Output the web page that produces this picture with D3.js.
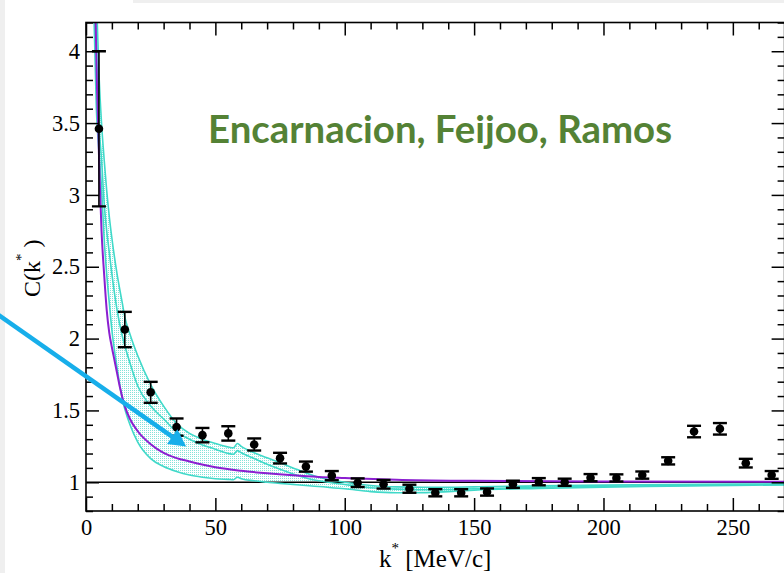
<!DOCTYPE html>
<html><head><meta charset="utf-8">
<script src="https://cdn.jsdelivr.net/npm/d3@7"></script>
<style>html,body{margin:0;padding:0;background:#fff;}svg{display:block;}</style>
</head><body>
<svg id="chart" width="784" height="573"></svg>
<script>
// ---- data ----
const dataK   = [5,15,25,35,45,55,65,75,85,95,105,115,125,135,145,155,165,175,185,195,205,215,225,235,245,255,265];
const dataC   = [3.46,2.063,1.626,1.384,1.328,1.34,1.263,1.168,1.109,1.046,0.997,0.986,0.955,0.927,0.927,0.932,0.986,1.004,1.0,1.032,1.03,1.05,1.149,1.353,1.372,1.133,1.051];
const dataErr = [0.54,0.123,0.073,0.06,0.05,0.05,0.042,0.037,0.035,0.032,0.03,0.03,0.028,0.025,0.025,0.025,0.025,0.025,0.025,0.025,0.025,0.025,0.025,0.04,0.04,0.03,0.027];

const purpleK = [3.5,4.25,4.8,5.2,6,7,8,9,10,11,12,13,15,17,20,25,30,35,40,50,60,70,80,90,100,120,150,200,270];
const purpleC = [4.4,3.75,3.42,3.15,2.75,2.45,2.2,2.04,1.94,1.85,1.76,1.67,1.53,1.44,1.355,1.265,1.205,1.168,1.145,1.105,1.08,1.062,1.048,1.037,1.03,1.018,1.01,1.005,1.003];

const bandK      = [3,4,5,6,7,8,9,10,12,14,15,17,20,25,30,35,40,45,50,55,57,58.5,60,65,70,75,80,85,90,100,110,120,130,140,150,175,200,225,250,270];
const bandUpper  = [5.0,4.4,3.85,3.5,3.25,3.03,2.85,2.7,2.45,2.25,2.15,2.03,1.88,1.68,1.53,1.41,1.34,1.30,1.27,1.245,1.24,1.27,1.25,1.205,1.17,1.135,1.10,1.065,1.035,1.0,0.978,0.968,0.965,0.965,0.968,0.975,0.98,0.984,0.987,0.989];
const bandMiddle = [4.6,4.05,3.5,3.25,2.95,2.75,2.6,2.45,2.2,2.02,1.95,1.83,1.67,1.53,1.44,1.35,1.30,1.26,1.23,1.20,1.195,1.22,1.205,1.165,1.125,1.09,1.058,1.03,1.01,0.985,0.962,0.952,0.948,0.95,0.955,0.965,0.972,0.978,0.982,0.985];
const bandLower  = [4.3,3.6,3.3,3.05,2.7,2.45,2.25,2.06,1.8,1.58,1.51,1.4,1.28,1.165,1.11,1.075,1.05,1.035,1.025,1.02,1.018,1.035,1.025,1.01,1.0,0.992,0.985,0.978,0.97,0.955,0.935,0.927,0.928,0.935,0.945,0.957,0.966,0.972,0.978,0.982];

const xMajor = [0,50,100,150,200,250];
const yMajor = [1,1.5,2,2.5,3,3.5,4];
const xLabels = ["0","50","100","150","200","250"];
const yLabels = ["1","1.5","2","2.5","3","3.5","4"];
const titleText = "Encarnacion, Feijoo, Ramos";
const arrowFrom = [-35, 2.18];
const arrowTo = [38.7, 1.249];

// ---- layout ----
const svg = d3.select("#chart");
const L = 86, R = 784.6, T = 22.5, B = 511;
const x = d3.scaleLinear().domain([0, 270]).range([L, R]);
const y = d3.scaleLinear().domain([0.8, 4.2]).range([B, T]);

// slide background strips
svg.append("rect").attr("x",0).attr("y",0).attr("width",5).attr("height",573).attr("fill","#efefef");
svg.append("rect").attr("x",133).attr("y",0).attr("width",651).attr("height",3).attr("fill","#efefef");

const defs = svg.append("defs");
defs.append("clipPath").attr("id","clip").append("rect")
  .attr("x",L).attr("y",T).attr("width",R-L).attr("height",B-T);
const pat = defs.append("pattern").attr("id","dots").attr("patternUnits","userSpaceOnUse")
  .attr("width",2).attr("height",2);
pat.append("rect").attr("width",1).attr("height",1).attr("fill","#5cd9cc");

const plot = svg.append("g").attr("clip-path","url(#clip)");

// band fill
const bandData = bandK.map((k,i)=>({k, u:bandUpper[i], l:bandLower[i]}));
plot.append("path").datum(bandData)
  .attr("d", d3.area().x(d=>x(d.k)).y0(d=>y(d.l)).y1(d=>y(d.u)).curve(d3.curveMonotoneX))
  .attr("fill","url(#dots)").attr("opacity",0.75);

// reference line at 1
plot.append("line").attr("x1",x(0)).attr("x2",x(270)).attr("y1",y(1)).attr("y2",y(1))
  .attr("stroke","#000").attr("stroke-width",1.6);

const line = d3.line().x(d=>x(d[0])).y(d=>y(d[1])).curve(d3.curveMonotoneX);
[bandUpper, bandMiddle, bandLower].forEach(arr=>{
  plot.append("path").datum(bandK.map((k,i)=>[k,arr[i]]))
    .attr("d",line).attr("fill","none").attr("stroke","#40d9c9").attr("stroke-width",1.6);
});
plot.append("path").datum(purpleK.map((k,i)=>[k,purpleC[i]]))
  .attr("d",line).attr("fill","none").attr("stroke","#8b1fd0").attr("stroke-width",2);

// data points with error bars
const pts = dataK.map((k,i)=>({k, c:dataC[i], e:dataErr[i]}));
const eg = plot.append("g");
pts.forEach(p=>{
  const cx = x(p.k);
  eg.append("line").attr("x1",cx).attr("x2",cx).attr("y1",y(p.c+p.e)).attr("y2",y(p.c-p.e))
    .attr("stroke","#000").attr("stroke-width",1.6);
  [p.c+p.e, p.c-p.e].forEach(v=>{
    eg.append("line").attr("x1",cx-7).attr("x2",cx+7).attr("y1",y(v)).attr("y2",y(v))
      .attr("stroke","#000").attr("stroke-width",2.4);
  });
  eg.append("circle").attr("cx",cx).attr("cy",y(p.c)).attr("r",4.3).attr("fill","#000");
});

// axes (ticks inward on all sides)
function styleAxis(g){
  g.select(".domain").remove();
  g.selectAll("line").attr("stroke","#000").attr("stroke-width",1.5);
  g.selectAll("text").attr("font-family","'Liberation Serif','Times New Roman',serif")
    .attr("font-size",22.5).attr("fill","#000");
}
const xMinor = d3.range(0, 271, 10).filter(v=>v%50!==0);
const yMinor = d3.range(8, 43, 1).map(v=>v/10).filter(v=>Math.round(v*10)%5!==0);

svg.append("g").attr("transform",`translate(0,${B})`)
  .call(d3.axisBottom(x).tickValues(xMajor).tickSize(-13).tickPadding(8).tickFormat((d,i)=>xLabels[i]))
  .call(styleAxis);
svg.append("g").attr("transform",`translate(0,${B})`)
  .call(d3.axisBottom(x).tickValues(xMinor).tickSize(-7).tickFormat(""))
  .call(styleAxis);
svg.append("g").attr("transform",`translate(0,${T})`)
  .call(d3.axisTop(x).tickValues(xMajor).tickSize(-13).tickFormat(""))
  .call(styleAxis);
svg.append("g").attr("transform",`translate(0,${T})`)
  .call(d3.axisTop(x).tickValues(xMinor).tickSize(-7).tickFormat(""))
  .call(styleAxis);
svg.append("g").attr("transform",`translate(${L},0)`)
  .call(d3.axisLeft(y).tickValues(yMajor).tickSize(-13).tickPadding(6).tickFormat((d,i)=>yLabels[i]))
  .call(styleAxis);
svg.append("g").attr("transform",`translate(${L},0)`)
  .call(d3.axisLeft(y).tickValues(yMinor).tickSize(-7).tickFormat(""))
  .call(styleAxis);
svg.append("g").attr("transform",`translate(${R},0)`)
  .call(d3.axisRight(y).tickValues(yMajor).tickSize(-13).tickFormat(""))
  .call(styleAxis);
svg.append("g").attr("transform",`translate(${R},0)`)
  .call(d3.axisRight(y).tickValues(yMinor).tickSize(-7).tickFormat(""))
  .call(styleAxis);

// frame
svg.append("rect").attr("x",L).attr("y",T).attr("width",R-L).attr("height",B-T)
  .attr("fill","none").attr("stroke","#000").attr("stroke-width",1.6);

// axis titles
const serif = "'Liberation Serif','Times New Roman',serif";
const xt = svg.append("text").attr("x",379).attr("y",567).attr("font-family",serif).attr("font-size",25).attr("fill","#000");
xt.append("tspan").text("k");
xt.append("tspan").attr("dy",-14).attr("font-size",15).text("*");
xt.append("tspan").attr("dy",14).text(" [MeV/c]");

const yt = svg.append("text").attr("transform","translate(40,297) rotate(-90)")
  .attr("font-family",serif).attr("font-size",24).attr("fill","#000");
yt.append("tspan").text("C(k");
yt.append("tspan").attr("dy",-14).attr("font-size",15).text("*");
yt.append("tspan").attr("dy",14).text(" )");

// title annotation
svg.append("text").attr("x",208).attr("y",143).attr("font-family","Lato,'Open Sans',sans-serif")
  .attr("font-weight","bold").attr("font-size",38).attr("fill","#548235")
  .attr("textLength",464).attr("lengthAdjust","spacingAndGlyphs").text(titleText);

// arrow annotation
const ax0 = x(arrowFrom[0]), ay0 = y(arrowFrom[1]), ax1 = x(arrowTo[0]), ay1 = y(arrowTo[1]);
const dx = ax1-ax0, dy = ay1-ay0, len = Math.hypot(dx,dy), ux = dx/len, uy = dy/len;
const headL = 17, headW = 9;
const bx = ax1-ux*headL, by = ay1-uy*headL;
svg.append("line").attr("x1",ax0).attr("y1",ay0).attr("x2",bx+ux*2).attr("y2",by+uy*2)
  .attr("stroke","#17aeea").attr("stroke-width",4.5);
svg.append("path").attr("d",`M${ax1},${ay1}L${bx-uy*headW},${by+ux*headW}L${bx+uy*headW},${by-ux*headW}Z`)
  .attr("fill","#17aeea");
</script>
</body></html>
